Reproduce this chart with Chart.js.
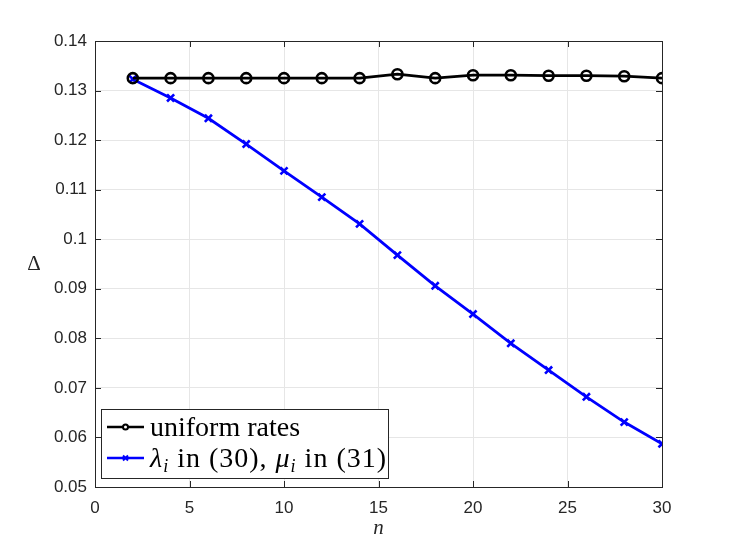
<!DOCTYPE html>
<html lang="en">
<head>
<meta charset="UTF-8">
<script src="https://cdn.jsdelivr.net/npm/chart.js"></script>
<title>Delta vs n</title>
<style>
  * { margin: 0; padding: 0; box-sizing: border-box; }
  body { background: #fff; }
  .chartBox { width: 731px; height: 548px; }
</style>
</head>
<body>
<div class="chartBox"><canvas id="myChart"></canvas></div>
<script>
// setup block
const nValues = [2, 4, 6, 8, 10, 12, 14, 16, 18, 20, 22, 24, 26, 28, 30];
const uniformRates = [0.1325, 0.1325, 0.1325, 0.1325, 0.1325, 0.1325, 0.1325, 0.1333, 0.1325, 0.1331, 0.1331, 0.1330, 0.1330, 0.1329, 0.1325];
const customRates = [0.1323, 0.1285, 0.1244, 0.1192, 0.1138, 0.1085, 0.1031, 0.0968, 0.0906, 0.0849, 0.0790, 0.0736, 0.0682, 0.0631, 0.0587];
const xTicks = [0, 5, 10, 15, 20, 25, 30];
const yTicks = [0.05, 0.06, 0.07, 0.08, 0.09, 0.1, 0.11, 0.12, 0.13, 0.14];

const toPoints = (ys) => ys.map((y, i) => ({ x: nValues[i], y }));
const axisColor = '#262626';
const tickFont = { family: "'Liberation Sans', Arial, sans-serif", size: 17 };

// plugin block
const matlabBox = {
  id: 'matlabBox',
  afterDatasetsDraw(chart) {
    const { ctx, chartArea: { top, right, bottom, left }, scales: { x, y } } = chart;
    ctx.save();
    ctx.strokeStyle = axisColor;
    ctx.lineWidth = 1;
    // inward ticks on all four sides
    ctx.beginPath();
    xTicks.forEach(v => {
      const px = Math.round(x.getPixelForValue(v)) + 0.5;
      ctx.moveTo(px, bottom); ctx.lineTo(px, bottom - 6);
      ctx.moveTo(px, top); ctx.lineTo(px, top + 6);
    });
    yTicks.forEach(v => {
      const py = Math.round(y.getPixelForValue(v)) + 0.5;
      ctx.moveTo(left, py); ctx.lineTo(left + 6, py);
      ctx.moveTo(right, py); ctx.lineTo(right - 6, py);
    });
    ctx.stroke();
    ctx.strokeRect(left + 0.5, top + 0.5, right - left, bottom - top);

    // axis titles
    ctx.fillStyle = axisColor;
    ctx.textAlign = 'center';
    ctx.textBaseline = 'middle';
    ctx.font = "21px 'Liberation Serif', serif";
    ctx.fillText('\u0394', 34, (top + bottom) / 2);
    ctx.font = "italic 21px 'Liberation Serif', serif";
    ctx.fillText('n', (left + right) / 2, 528);

    // legend inside the axes, bottom-left
    const bx = left + 6, by = bottom - 78, bw = 287, bh = 69;
    ctx.fillStyle = '#fff';
    ctx.fillRect(bx, by, bw, bh);
    ctx.strokeStyle = axisColor;
    ctx.strokeRect(bx + 0.5, by + 0.5, bw, bh);

    const rowY = [by + 18, by + 49];
    // row 1 sample
    ctx.lineWidth = 2.5;
    ctx.strokeStyle = '#000';
    ctx.beginPath(); ctx.moveTo(bx + 6, rowY[0]); ctx.lineTo(bx + 43, rowY[0]); ctx.stroke();
    ctx.lineWidth = 2;
    ctx.beginPath(); ctx.arc(bx + 24.5, rowY[0], 2.5, 0, Math.PI * 2); ctx.fillStyle = '#fff'; ctx.fill(); ctx.stroke();
    // row 2 sample
    ctx.lineWidth = 2.5;
    ctx.strokeStyle = '#0000ff';
    ctx.beginPath(); ctx.moveTo(bx + 6, rowY[1]); ctx.lineTo(bx + 43, rowY[1]); ctx.stroke();
    ctx.lineWidth = 2;
    ctx.beginPath();
    ctx.moveTo(bx + 22, rowY[1] - 2.5); ctx.lineTo(bx + 27, rowY[1] + 2.5);
    ctx.moveTo(bx + 27, rowY[1] - 2.5); ctx.lineTo(bx + 22, rowY[1] + 2.5);
    ctx.stroke();

    // legend texts
    ctx.fillStyle = '#000';
    ctx.textAlign = 'left';
    ctx.textBaseline = 'alphabetic';
    const big = "28px 'Liberation Serif', serif";
    const bigIt = "italic 28px 'Liberation Serif', serif";
    const sub = "italic 18px 'Liberation Serif', serif";
    ctx.font = big;
    ctx.fillText('uniform rates', bx + 49, rowY[0] + 9);
    const parts = [
      [bigIt, '\u03bb', 0], [sub, 'i', 5], [big, ' in (30), ', 0],
      [bigIt, '\u03bc', 0], [sub, 'i', 5], [big, ' in (31)', 0]
    ];
    ctx.letterSpacing = '1px';
    let tx = bx + 49;
    parts.forEach(([f, t, dy]) => {
      ctx.font = f;
      ctx.fillText(t, tx, rowY[1] + 9 + dy);
      tx += ctx.measureText(t).width;
    });
    ctx.restore();
  }
};

// config block
const config = {
  type: 'line',
  data: {
    datasets: [
      {
        label: 'uniform rates',
        data: toPoints(uniformRates),
        borderColor: '#000',
        backgroundColor: '#fff',
        borderWidth: 2.8,
        pointStyle: 'circle',
        pointRadius: 5,
        pointBorderWidth: 2.6,
        pointBorderColor: '#000',
        pointBackgroundColor: 'rgba(255,255,255,0)'
      },
      {
        label: 'lambda_i in (30), mu_i in (31)',
        data: toPoints(customRates),
        borderColor: '#0000ff',
        backgroundColor: '#0000ff',
        borderWidth: 2.8,
        pointStyle: 'crossRot',
        pointRadius: 5,
        pointBorderWidth: 2.6,
        pointBorderColor: '#0000ff'
      }
    ]
  },
  options: {
    responsive: false,
    animation: false,
    layout: { padding: { top: 41, right: 69, left: 0, bottom: 0 } },
    plugins: {
      legend: { display: false },
      tooltip: { enabled: false }
    },
    scales: {
      x: {
        type: 'linear',
        min: 0,
        max: 30,
        afterFit(scale) { scale.height = 61; },
        afterBuildTicks(scale) { scale.ticks = xTicks.map(v => ({ value: v })); },
        grid: { color: '#e6e6e6', drawTicks: false },
        border: { display: false },
        ticks: { color: axisColor, font: tickFont, padding: 11, maxRotation: 0 }
      },
      y: {
        type: 'linear',
        min: 0.05,
        max: 0.14,
        afterFit(scale) { scale.width = 95; },
        afterBuildTicks(scale) { scale.ticks = yTicks.map(v => ({ value: v })); },
        grid: { color: '#e6e6e6', drawTicks: false },
        border: { display: false },
        ticks: {
          color: axisColor, font: tickFont, padding: 8,
          callback: (v) => String(+Number(v).toFixed(2))
        }
      }
    }
  },
  plugins: [matlabBox]
};

// render block
const canvas = document.getElementById('myChart');
canvas.width = 731;
canvas.height = 548;
const myChart = new Chart(canvas, config);
</script>
</body>
</html>
